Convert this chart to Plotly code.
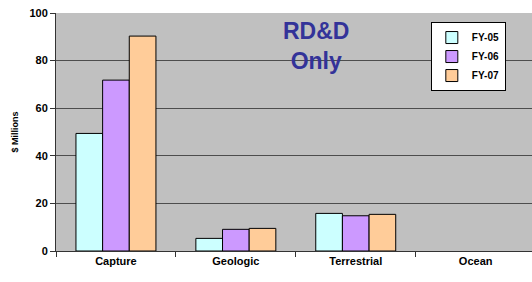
import plotly.graph_objects as go

categories = ["Capture", "Geologic", "Terrestrial", "Ocean"]
series_names = ["FY-05", "FY-06", "FY-07"]
fy05 = [49.4, 5.3, 15.8, None]
fy06 = [71.8, 9.1, 14.8, None]
fy07 = [90.3, 9.5, 15.4, None]
y_ticks = [0, 20, 40, 60, 80, 100]
colors = ["#CCFFFF", "#CC99FF", "#FFCC99"]

FONT = "Arial, 'Liberation Sans', sans-serif"

fig = go.Figure()
for name, vals, col in zip(series_names, [fy05, fy06, fy07], colors):
    fig.add_trace(go.Bar(
        x=categories, y=vals, name=name,
        marker=dict(color=col, line=dict(color="#000000", width=1)),
    ))

fig.update_layout(
    width=532, height=282,
    margin=dict(l=56, r=0, t=13, b=31),
    paper_bgcolor="#FFFFFF",
    plot_bgcolor="#C0C0C0",
    barmode="group",
    bargap=0.333, bargroupgap=0,
    font=dict(family=FONT, size=11, color="#000000"),
    showlegend=True,
    legend=dict(
        x=0.945, y=0.962, xanchor="right", yanchor="top",
        bgcolor="#FFFFFF", bordercolor="#000000", borderwidth=1,
        font=dict(family=FONT, size=10, color="#000000", weight="bold"),
        itemwidth=30, tracegroupgap=0,
    ),
    annotations=[dict(
        text="<b>RD&D<br>Only</b>", x=1.67, y=86, xref="x", yref="y",
        showarrow=False, font=dict(family=FONT, size=23, color="#333399"),
        align="center",
    )],
)
fig.update_xaxes(
    range=[-0.5, 3.47],
    showline=True, linecolor="#333333", linewidth=1,
    ticks="outside", tickson="boundaries", ticklen=5, tickcolor="#333333",
    tickfont=dict(family=FONT, size=11, color="#000000", weight="bold"),
    showgrid=False, fixedrange=True,
)
fig.update_yaxes(
    range=[0, 100], tickvals=y_ticks,
    showline=True, linecolor="#333333", linewidth=1,
    ticks="outside", ticklen=5, tickcolor="#333333",
    showgrid=True, gridcolor="#4D4D4D", gridwidth=1,
    zeroline=False, fixedrange=True,
    tickfont=dict(family=FONT, size=11, color="#000000", weight="bold"),
    title=dict(text="$ Millions", font=dict(family=FONT, size=9, color="#000000", weight="bold"), standoff=9),
)

fig.write_html(
    "out.html",
    config={"displayModeBar": False},
    post_script="document.body.style.margin='0';document.body.style.overflow='hidden';",
)
